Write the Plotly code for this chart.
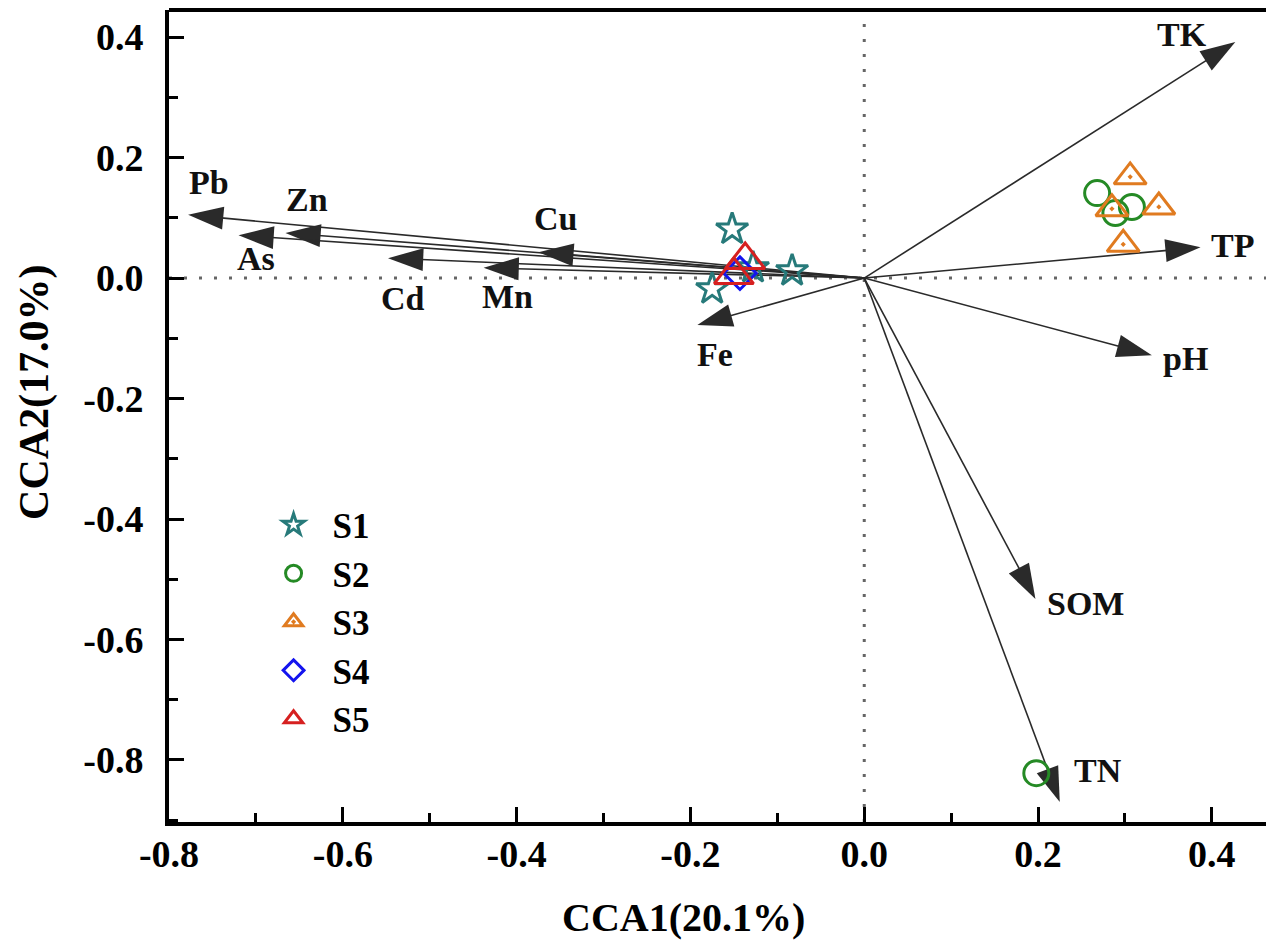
import plotly.graph_objects as go

# ---------------- data ----------------
env_names = ["TK", "TP", "pH", "SOM", "TN", "Fe", "Pb", "Zn", "As", "Cd", "Mn", "Cu"]
env_x = [0.427, 0.387, 0.331, 0.197, 0.225, -0.192, -0.778, -0.666, -0.720, -0.548, -0.438, -0.375]
env_y = [0.392, 0.051, -0.128, -0.533, -0.870, -0.078, 0.105, 0.075, 0.071, 0.033, 0.017, 0.043]
# label offsets (pixels) relative to arrow tips
label_dx = [-53, 32, 34, 50, 38, 18, 21, 22, 17, 15, 24, 17]
label_dy = [7, 2, -3, -4, 32, -29, 32, 33, -23, -40, -29, 34]

s1_x = [-0.152, -0.128, -0.083, -0.175]
s1_y = [0.081, 0.017, 0.012, -0.018]
s2_x = [0.268, 0.308, 0.289, 0.198]
s2_y = [0.141, 0.118, 0.108, -0.822]
s3_x = [0.306, 0.285, 0.339, 0.298]
s3_y = [0.168, 0.115, 0.118, 0.056]
s4_x = [-0.143]
s4_y = [0.008]
s5_x = [-0.137, -0.150]
s5_y = [0.030, 0.005]

x_tickvals = [-0.8, -0.6, -0.4, -0.2, 0.0, 0.2, 0.4]
x_ticktext = ["-0.8", "-0.6", "-0.4", "-0.2", "0.0", "0.2", "0.4"]
y_tickvals = [-0.8, -0.6, -0.4, -0.2, 0.0, 0.2, 0.4]
y_ticktext = ["-0.8", "-0.6", "-0.4", "-0.2", "0.0", "0.2", "0.4"]

x_title = "CCA1(20.1%)"
y_title = "CCA2(17.0%)"

# ---------------- figure ----------------
FONT = "Liberation Serif"
ARROW_COLOR = "#2a2a2a"

fig = go.Figure()

# dotted zero lines
fig.add_shape(type="line", xref="paper", yref="y", x0=0, x1=1, y0=0, y1=0,
              line=dict(color="#666666", width=3, dash="3px,12px"), layer="below")
fig.add_shape(type="line", xref="x", yref="paper", x0=0, x1=0, y0=0, y1=1,
              line=dict(color="#666666", width=3, dash="3px,12px"), layer="below")

# arrows
for name, ex, ey in zip(env_names, env_x, env_y):
    fig.add_trace(go.Scatter(
        x=[0, ex], y=[0, ey], mode="lines+markers",
        line=dict(color=ARROW_COLOR, width=1.6),
        marker=dict(symbol="arrow", size=[0, 37], angleref="previous",
                    color=ARROW_COLOR, opacity=1, line=dict(width=0)),
        showlegend=False, hoverinfo="skip", name=name,
    ))

# arrow labels
for name, ex, ey, dx, dy in zip(env_names, env_x, env_y, label_dx, label_dy):
    fig.add_annotation(x=ex, y=ey, text=name, showarrow=False,
                       xshift=dx, yshift=dy,
                       font=dict(family=FONT, size=34, color="#111111", weight="bold"))

# samples
fig.add_trace(go.Scatter(x=s1_x, y=s1_y, mode="markers", name="S1",
                         marker=dict(symbol="star-open", size=24, color="#277a7a",
                                     line=dict(width=3, color="#277a7a"))))
fig.add_trace(go.Scatter(x=s2_x, y=s2_y, mode="markers", name="S2",
                         marker=dict(symbol="circle-open", size=25, color="#258a25",
                                     line=dict(width=3, color="#258a25"))))
fig.add_trace(go.Scatter(x=s3_x, y=s3_y, mode="markers", name="S3",
                         marker=dict(symbol="triangle-up-open-dot", size=28, color="#e07b20",
                                     line=dict(width=3, color="#e07b20"))))
fig.add_trace(go.Scatter(x=s4_x, y=s4_y, mode="markers", name="S4",
                         marker=dict(symbol="diamond-open", size=25, color="#1414ee",
                                     line=dict(width=3, color="#1414ee"))))
fig.add_trace(go.Scatter(x=s5_x, y=s5_y, mode="markers", name="S5",
                         marker=dict(symbol="triangle-up-open", size=34, color="#d62020",
                                     line=dict(width=3, color="#d62020"))))

# top border
fig.add_shape(type="line", xref="paper", yref="paper", x0=0, x1=1, y0=1, y1=1,
              line=dict(color="black", width=4))

# axis titles (placed as in the reference)
fig.add_annotation(xref="paper", yref="paper", x=0.4686, y=-0.1170,
                   xanchor="center", yanchor="middle", text=x_title, showarrow=False,
                   font=dict(family=FONT, size=40, color="black", weight="bold"))
fig.add_annotation(xref="paper", yref="paper", x=-0.1222, y=0.5296,
                   xanchor="center", yanchor="middle", text=y_title, showarrow=False,
                   textangle=-90,
                   font=dict(family=FONT, size=42, color="black", weight="bold"))

axis_common = dict(
    showgrid=False, zeroline=False, showline=True, linecolor="black", linewidth=4,
    ticks="inside", ticklen=15, tickwidth=3, tickcolor="black",
    tickfont=dict(family=FONT, size=38, color="black", weight="bold"),
    minor=dict(ticks="inside", ticklen=9, tickwidth=3, tickcolor="black", dtick=0.1),
    mirror=False,
)

fig.update_xaxes(range=[-0.8, 0.4623], tickmode="array", tickvals=x_tickvals,
                 ticktext=x_ticktext, ticklabelstandoff=-5,
                 automargin=False, **axis_common)
fig.update_yaxes(range=[-0.903, 0.445], tickmode="array", tickvals=y_tickvals,
                 ticktext=y_ticktext, ticklabelstandoff=14,
                 automargin=False, **axis_common)

fig.update_layout(
    width=1266, height=944,
    margin=dict(l=169, r=0, t=10, b=122),
    paper_bgcolor="white", plot_bgcolor="white",
    legend=dict(x=0.078, y=0.402, xanchor="left", yanchor="top",
                bgcolor="rgba(0,0,0,0)", itemwidth=68,
                font=dict(family=FONT, size=35, color="black", weight="bold")),
    showlegend=True,
)

fig.write_html("out.html", config={"displayModeBar": False},
               post_script="document.body.style.margin='0';document.body.style.overflow='hidden';")
